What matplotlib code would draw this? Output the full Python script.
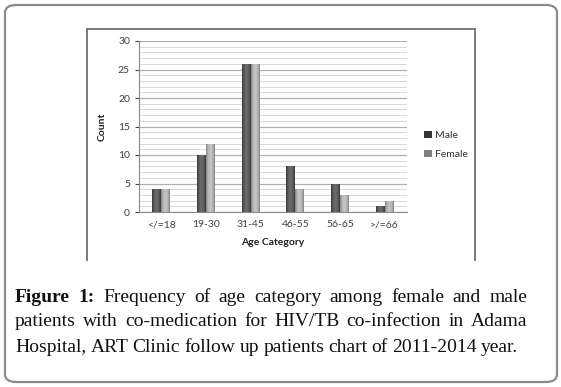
import numpy as np
import matplotlib.pyplot as plt
from matplotlib.patches import FancyBboxPatch
from matplotlib.lines import Line2D

# data
categories = ['</=18', '19-30', '31-45', '46-55', '56-65', '>/=66']
male = [4, 10, 26, 8, 5, 1]
female = [4, 12, 26, 4, 3, 2]

caption_lines = [
    ['Figure', '1:', 'Frequency', 'of', 'age', 'category', 'among', 'female', 'and', 'male'],
    ['patients', 'with', 'co-medication', 'for', 'HIV/TB', 'co-infection', 'in', 'Adama'],
    ['Hospital,', 'ART', 'Clinic', 'follow', 'up', 'patients', 'chart', 'of', '2011-2014', 'year.'],
]

W, H = 561, 387
fig = plt.figure(figsize=(W / 100, H / 100), dpi=100)
plt.rcParams['font.family'] = ['Lato', 'DejaVu Sans']

# outer rounded frame
frame = FancyBboxPatch((5 / W, 5 / H), 552 / W, 377 / H,
                       boxstyle='round,pad=0,rounding_size=0.02',
                       transform=fig.transFigure, fill=False,
                       edgecolor='#8a8a8a', linewidth=1.6)
fig.patches.append(frame)

def fx(x):
    return x / W

def fy(y):
    return 1 - y / H

# chart border (left, top, right)
for xs, ys in [([87, 87], [260, 29]), ([87, 475], [29, 29]), ([475, 475], [29, 260])]:
    fig.add_artist(Line2D([fx(v) for v in xs], [fy(v) for v in ys],
                          color='#7a7a7a', linewidth=1.4))

ax = fig.add_axes([fx(139), fy(212), fx(407) - fx(139), fy(41) - fy(212)])

x = np.arange(len(categories))
bw = 0.2


def gradient_bars(xpos, vals, dark, light, label):
    bars = ax.bar(xpos, vals, bw, color=dark, edgecolor='none', label=label, zorder=3)
    grad = np.linspace(0, 1, 64)
    prof = np.sin(np.pi * grad) ** 0.8
    c0 = np.array(plt.matplotlib.colors.to_rgb(dark))
    c1 = np.array(plt.matplotlib.colors.to_rgb(light))
    img = (c0[None, :] * (1 - prof[:, None]) + c1[None, :] * prof[:, None])[None, :, :]
    for b in bars:
        x0, w, h = b.get_x(), b.get_width(), b.get_height()
        im = ax.imshow(img, extent=[x0, x0 + w, 0, h], aspect='auto', zorder=4,
                       interpolation='bilinear')
        im.set_clip_path(b)
    return bars


gradient_bars(x - bw / 2, male, '#333333', '#6a6a6a', 'Male')
gradient_bars(x + bw / 2, female, '#7f7f7f', '#c4c4c4', 'Female')

ax.set_xlim(-0.5, len(categories) - 0.5)
ax.set_ylim(0, 30)
ax.set_yticks(range(0, 31, 5))
ax.set_yticks(range(0, 31), minor=True)
ax.grid(axis='y', which='major', color='#b0b0b0', linewidth=0.9, zorder=0)
ax.grid(axis='y', which='minor', color='#d8d8d8', linewidth=0.7, zorder=0)
ax.set_xticks(x)
ax.set_xticklabels(categories)
ax.tick_params(axis='both', labelsize=7.5, colors='#404040', length=3, width=0.8)
ax.tick_params(axis='x', length=0, pad=6)
ax.tick_params(axis='y', which='minor', length=0)
for s in ['top', 'right']:
    ax.spines[s].set_visible(False)
for s in ['left', 'bottom']:
    ax.spines[s].set_color('#8a8a8a')
ax.set_xlabel('Age Category', fontsize=7.5, fontweight='bold', color='#202020', labelpad=6)
ax.set_ylabel('Count', fontsize=7.5, fontweight='bold', color='#202020', labelpad=8)
ax.set_axisbelow(True)

leg = fig.legend(loc='center left', bbox_to_anchor=(fx(415), fy(145)), frameon=False,
                 fontsize=7.5, handlelength=0.7, handleheight=0.7, handletextpad=0.3,
                 labelspacing=0.9)
for t in leg.get_texts():
    t.set_color('#303030')

# justified caption
renderer = fig.canvas.get_renderer()
left, right = 15, 527
line_y = [298, 322, 347]
serif = ['Liberation Serif', 'DejaVu Serif']
for li, words in enumerate(caption_lines):
    texts = []
    for wi, wd in enumerate(words):
        bold = li == 0 and wi < 2
        t = fig.text(0, fy(line_y[li]), wd, fontsize=14, family=serif,
                     fontweight='bold' if bold else 'normal', color='#111111',
                     va='center', ha='left')
        texts.append(t)
    widths = [t.get_window_extent(renderer).width for t in texts]
    if li < 2:
        gap = (right - left - sum(widths)) / (len(words) - 1)
    else:
        gap = 4.2
    pos = left
    for t, w in zip(texts, widths):
        t.set_x(fx(pos))
        pos += w + gap

fig.savefig('out.png', dpi=100)
